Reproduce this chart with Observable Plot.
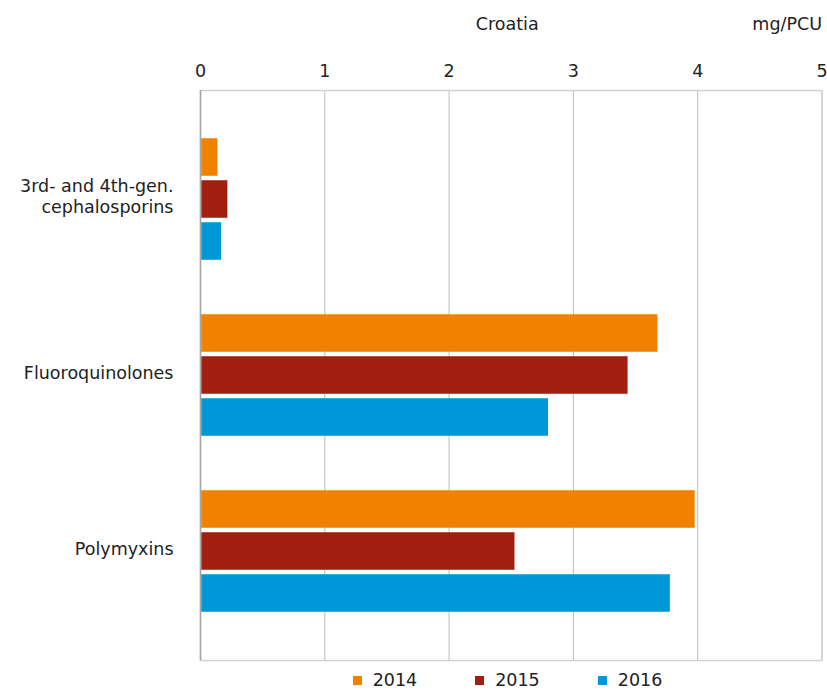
<!DOCTYPE html>
<html>
<head>
<meta charset="utf-8">
<script src="https://cdn.jsdelivr.net/npm/d3@7"></script>
<script src="https://cdn.jsdelivr.net/npm/@observablehq/plot@0.6"></script>
<style>
  html, body { margin: 0; padding: 0; background: #fff; }
  #wrap { position: relative; width: 827px; height: 692px; overflow: hidden; font-family: "DejaVu Sans", Verdana, sans-serif; color: #222; }
  #legend { position: absolute; left: 200px; width: 615px; top: 672px; height: 16px; line-height: 16px; display: flex; justify-content: center; align-items: center; font-size: 17.5px; }
  .item { display: flex; align-items: center; margin: 0 29px; }
  .sw { width: 9px; height: 9px; margin-right: 11px; }
</style>
</head>
<body>
<div id="wrap"><div id="chart"></div><div id="legend"></div></div>
<script>
const title = "Croatia";
const unit = "mg/PCU";
const categories = ["3rd- and 4th-gen.\ncephalosporins", "Fluoroquinolones", "Polymyxins"];
const years = ["2014", "2015", "2016"];
const values2014 = [0.14, 3.68, 3.98];
const values2015 = [0.22, 3.44, 2.53];
const values2016 = [0.17, 2.80, 3.78];
const colors = ["#F08200", "#A01F0F", "#0097D8"];
const xTicks = [0, 1, 2, 3, 4, 5];

const seriesValues = [values2014, values2015, values2016];
const data = [];
years.forEach((yr, j) => categories.forEach((c, i) => data.push({category: c, year: yr, value: seriesValues[j][i]})));

const barH = 38, barStep = 42;
const bandStep = 570 / (3 + 0.23);
const inset = (bandStep - barH) / 2;
const fs = 17.5;

const marks = [
  Plot.gridX(xTicks, {stroke: "#bcbcbc", strokeOpacity: 1}),
  ...years.map((yr, j) => Plot.barX(data.filter(d => d.year === yr), {
    x: "value", y: "category", fill: "year",
    dy: (j - 1) * barStep, insetTop: inset, insetBottom: inset
  })),
  Plot.frame({stroke: "#d2d2d2", strokeWidth: 1.5}),
  Plot.ruleX([0], {stroke: "#a6a6a6", strokeWidth: 1.5}),
  Plot.axisX(xTicks, {anchor: "top", tickSize: 0, tickPadding: 14, label: null, tickFormat: d3.format("d"), fill: "#222", fontSize: fs}),
  Plot.text(categories, {y: d => d, text: d => d, frameAnchor: "left", textAnchor: "end", dx: -27, dy: -4, lineHeight: 1.25, fill: "#222", fontSize: fs}),
  Plot.text([title], {text: d => d, frameAnchor: "top", lineAnchor: "bottom", dy: -61, dx: -4, fill: "#222", fontSize: fs}),
  Plot.text([unit], {text: d => d, frameAnchor: "top-right", textAnchor: "end", lineAnchor: "bottom", dy: -61, fill: "#222", fontSize: fs})
];

const chart = Plot.plot({
  width: 827,
  height: 668,
  marginLeft: 200,
  marginRight: 5.5,
  marginTop: 90,
  marginBottom: 8,
  style: {fontFamily: "DejaVu Sans, Verdana, sans-serif", fontSize: fs + "px", color: "#222", background: "#fff"},
  x: {domain: [0, 5], axis: null},
  y: {domain: categories, paddingInner: 0, paddingOuter: 0.115, axis: null},
  color: {domain: years, range: colors},
  marks
});
document.getElementById("chart").appendChild(chart);

const legend = document.getElementById("legend");
years.forEach((yr, j) => {
  const it = document.createElement("div");
  it.className = "item";
  const sw = document.createElement("span");
  sw.className = "sw";
  sw.style.background = colors[j];
  const lb = document.createElement("span");
  lb.textContent = yr;
  it.appendChild(sw); it.appendChild(lb);
  legend.appendChild(it);
});
</script>
</body>
</html>
